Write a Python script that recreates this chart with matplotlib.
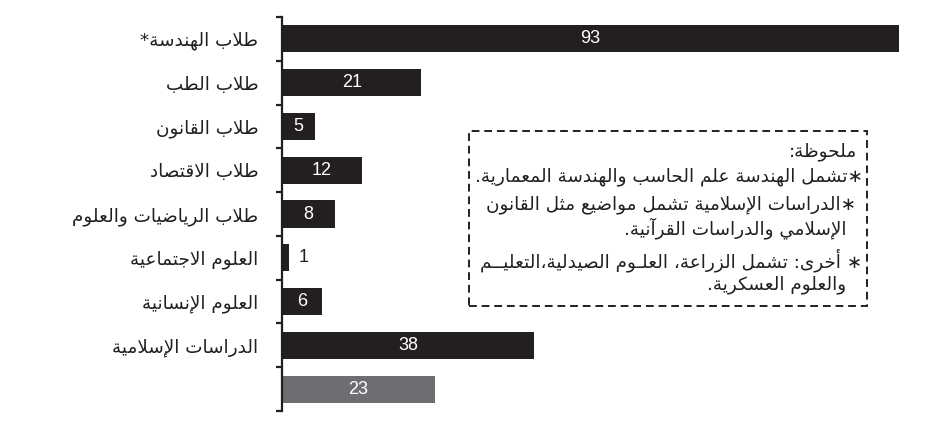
import matplotlib
matplotlib.use("Agg")
import matplotlib.pyplot as plt
from matplotlib.patches import Rectangle
from matplotlib.ticker import FixedLocator

# ---------------- data ----------------
categories = [
    "طلاب الهندسة*",
    "طلاب الطب",
    "طلاب القانون",
    "طلاب الاقتصاد",
    "طلاب الرياضيات والعلوم",
    "العلوم الاجتماعية",
    "العلوم الإنسانية",
    "الدراسات الإسلامية",
    "",
]
values = [93, 21, 5, 12, 8, 1, 6, 38, 23]
bar_colors = ["#231f20"] * 8 + ["#6d6e71"]
note_title = "ملحوظة:"
note_lines = [
    "∗تشمل الهندسة علم الحاسب والهندسة المعمارية.",
    "∗الدراسات الإسلامية تشمل مواضيع مثل القانون",
    "الإسلامي والدراسات القرآنية.",
    "∗ أخرى: تشمل الزراعة، العلـوم الصيدلية،التعليــم",
    "والعلوم العسكرية.",
]

# ---------------- minimal Arabic shaping (RTL) ----------------
FORMS = {
    '\u0621': (0xFE80, None, None, None),
    '\u0622': (0xFE81, 0xFE82, None, None),
    '\u0623': (0xFE83, 0xFE84, None, None),
    '\u0624': (0xFE85, 0xFE86, None, None),
    '\u0625': (0xFE87, 0xFE88, None, None),
    '\u0626': (0xFE89, 0xFE8A, 0xFE8B, 0xFE8C),
    '\u0627': (0xFE8D, 0xFE8E, None, None),
    '\u0628': (0xFE8F, 0xFE90, 0xFE91, 0xFE92),
    '\u0629': (0xFE93, 0xFE94, None, None),
    '\u062A': (0xFE95, 0xFE96, 0xFE97, 0xFE98),
    '\u062B': (0xFE99, 0xFE9A, 0xFE9B, 0xFE9C),
    '\u062C': (0xFE9D, 0xFE9E, 0xFE9F, 0xFEA0),
    '\u062D': (0xFEA1, 0xFEA2, 0xFEA3, 0xFEA4),
    '\u062E': (0xFEA5, 0xFEA6, 0xFEA7, 0xFEA8),
    '\u062F': (0xFEA9, 0xFEAA, None, None),
    '\u0630': (0xFEAB, 0xFEAC, None, None),
    '\u0631': (0xFEAD, 0xFEAE, None, None),
    '\u0632': (0xFEAF, 0xFEB0, None, None),
    '\u0633': (0xFEB1, 0xFEB2, 0xFEB3, 0xFEB4),
    '\u0634': (0xFEB5, 0xFEB6, 0xFEB7, 0xFEB8),
    '\u0635': (0xFEB9, 0xFEBA, 0xFEBB, 0xFEBC),
    '\u0636': (0xFEBD, 0xFEBE, 0xFEBF, 0xFEC0),
    '\u0637': (0xFEC1, 0xFEC2, 0xFEC3, 0xFEC4),
    '\u0638': (0xFEC5, 0xFEC6, 0xFEC7, 0xFEC8),
    '\u0639': (0xFEC9, 0xFECA, 0xFECB, 0xFECC),
    '\u063A': (0xFECD, 0xFECE, 0xFECF, 0xFED0),
    '\u0641': (0xFED1, 0xFED2, 0xFED3, 0xFED4),
    '\u0642': (0xFED5, 0xFED6, 0xFED7, 0xFED8),
    '\u0643': (0xFED9, 0xFEDA, 0xFEDB, 0xFEDC),
    '\u0644': (0xFEDD, 0xFEDE, 0xFEDF, 0xFEE0),
    '\u0645': (0xFEE1, 0xFEE2, 0xFEE3, 0xFEE4),
    '\u0646': (0xFEE5, 0xFEE6, 0xFEE7, 0xFEE8),
    '\u0647': (0xFEE9, 0xFEEA, 0xFEEB, 0xFEEC),
    '\u0648': (0xFEED, 0xFEEE, None, None),
    '\u0649': (0xFEEF, 0xFEF0, None, None),
    '\u064A': (0xFEF1, 0xFEF2, 0xFEF3, 0xFEF4),
    '\u0640': (0x0640, 0x0640, 0x0640, 0x0640),
    'LA\u0622': (0xFEF5, 0xFEF6, None, None),
    'LA\u0623': (0xFEF7, 0xFEF8, None, None),
    'LA\u0625': (0xFEF9, 0xFEFA, None, None),
    'LA\u0627': (0xFEFB, 0xFEFC, None, None),
}


def shape_rtl(text):
    toks = []
    i = 0
    while i < len(text):
        c = text[i]
        if c == '\u0644' and i + 1 < len(text) and text[i + 1] in '\u0622\u0623\u0625\u0627':
            toks.append('LA' + text[i + 1])
            i += 2
        else:
            toks.append(c)
            i += 1

    def joins_next(t):
        f = FORMS.get(t)
        return f is not None and f[2] is not None

    def joins_prev(t):
        f = FORMS.get(t)
        return f is not None and f[1] is not None

    out = []
    for k, t in enumerate(toks):
        f = FORMS.get(t)
        if f is None:
            out.append(t)
            continue
        p = k > 0 and joins_next(toks[k - 1]) and joins_prev(t)
        n = k + 1 < len(toks) and joins_next(t) and joins_prev(toks[k + 1])
        if p and n:
            g = f[3]
        elif p:
            g = f[1]
        elif n:
            g = f[2]
        else:
            g = f[0]
        out.append(chr(g))
    return ''.join(out)[::-1]


# ---------------- figure ----------------
W, H = 938, 429
fig = plt.figure(figsize=(W / 100, H / 100), dpi=100)
fig.patch.set_facecolor("white")

ax_left, ax_right = 282, 899
ax_top, ax_bot = 17, 411
ax = fig.add_axes([ax_left / W, 1 - ax_bot / H, (ax_right - ax_left) / W, (ax_bot - ax_top) / H])

ypos = list(range(len(values)))
ax.barh(ypos, values, height=0.62, color=bar_colors, edgecolor="none")
ax.set_xlim(0, max(values))
ax.set_ylim(len(values) - 0.5, -0.5)

for s in ["top", "right", "bottom"]:
    ax.spines[s].set_visible(False)
ax.spines["left"].set_linewidth(1.6)
ax.spines["left"].set_color("#231f20")
ax.set_xticks([])

ax.set_yticks(ypos)
ax.set_yticklabels([shape_rtl(c) for c in categories], fontsize=13.2,
                   family=["DejaVu Sans"], color="#231f20")
for lbl in ax.get_yticklabels():
    lbl.set_va("center_baseline")
ax.tick_params(axis="y", which="major", length=0, pad=17)
ax.yaxis.set_minor_locator(FixedLocator([y - 0.5 for y in range(len(values) + 1)]))
ax.tick_params(axis="y", which="minor", length=4, width=1.6, direction="out", color="#231f20")

for y, v in zip(ypos, values):
    if v <= 2:
        ax.text(v + 2.2, y, str(v), ha="center", va="center", fontsize=13,
                family="Liberation Sans", color="#231f20")
    else:
        ax.text(v / 2, y, str(v), ha="center", va="center", fontsize=13,
                family="Liberation Sans", color="white")

# ---------------- note box ----------------
bx0, bx1, by0, by1 = 469, 867, 131, 306
fig.patches.append(Rectangle((bx0 / W, 1 - by1 / H), (bx1 - bx0) / W, (by1 - by0) / H,
                             transform=fig.transFigure, fill=False, edgecolor="#231f20",
                             linewidth=1.4, linestyle=(0, (4, 2.5))))

note_fs = 13.2
fig.text(857 / W, 1 - 152 / H, shape_rtl(note_title), ha="right", va="center",
         fontsize=note_fs, family=["DejaVu Sans"], color="#231f20")
line_specs = [(863, 177), (856, 205), (846, 228), (862, 260), (846, 285)]
for txt, (xr, yc) in zip(note_lines, line_specs):
    fig.text(xr / W, 1 - yc / H, shape_rtl(txt), ha="right", va="center",
             fontsize=note_fs, family=["DejaVu Sans"], color="#231f20")

fig.savefig("out.png", dpi=100, facecolor="white")
